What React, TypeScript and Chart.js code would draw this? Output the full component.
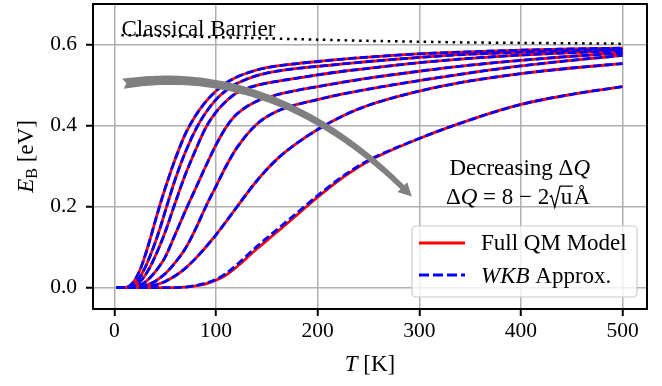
import React, { useEffect, useRef } from "react";
import { Chart, registerables } from "chart.js";

Chart.register(...registerables);

// ---- Data ----
const T = [2, 10, 15, 20, 25, 30, 35, 40, 45, 50, 60, 70, 80, 90, 100, 110, 120, 140, 160, 180, 200, 225, 250, 300, 350, 400, 450, 500];

const qm1 = [0, 0, 0.004, 0.018, 0.042, 0.077, 0.118, 0.162, 0.205, 0.245, 0.318, 0.38, 0.425, 0.459, 0.485, 0.505, 0.519, 0.537, 0.547, 0.553, 0.558, 0.564, 0.569, 0.577, 0.582, 0.586, 0.589, 0.591];
const qm2 = [0, 0, 0.002, 0.01, 0.025, 0.048, 0.077, 0.11, 0.147, 0.188, 0.268, 0.335, 0.39, 0.432, 0.464, 0.487, 0.503, 0.523, 0.534, 0.541, 0.546, 0.552, 0.558, 0.568, 0.576, 0.581, 0.585, 0.588];
const qm3 = [0, 0, 0.001, 0.005, 0.014, 0.029, 0.05, 0.076, 0.105, 0.137, 0.21, 0.28, 0.34, 0.395, 0.433, 0.46, 0.48, 0.499, 0.509, 0.517, 0.525, 0.534, 0.541, 0.555, 0.566, 0.574, 0.58, 0.584];
const qm4 = [0, 0, 0, 0.002, 0.006, 0.013, 0.024, 0.038, 0.055, 0.075, 0.132, 0.19, 0.245, 0.3, 0.352, 0.396, 0.427, 0.46, 0.476, 0.487, 0.496, 0.507, 0.517, 0.534, 0.549, 0.561, 0.571, 0.579];
const qm5 = [0, 0, 0, 0.001, 0.002, 0.005, 0.009, 0.015, 0.024, 0.034, 0.062, 0.097, 0.145, 0.2, 0.25, 0.3, 0.343, 0.403, 0.435, 0.452, 0.464, 0.478, 0.49, 0.511, 0.53, 0.547, 0.561, 0.573];
const qm6 = [0, 0, 0, 0, 0, 0.002, 0.003, 0.006, 0.01, 0.015, 0.029, 0.048, 0.072, 0.1, 0.13, 0.163, 0.197, 0.263, 0.317, 0.357, 0.39, 0.424, 0.45, 0.485, 0.51, 0.528, 0.542, 0.553];
const qm7 = [0, 0, 0, 0, 0, 0, 0, 0, 0, 0, 0, 0.001, 0.004, 0.009, 0.018, 0.031, 0.05, 0.095, 0.137, 0.18, 0.223, 0.272, 0.312, 0.368, 0.414, 0.452, 0.477, 0.496];

const wkb1 = qm1;
const wkb2 = qm2;
const wkb3 = qm3;
const wkb4 = qm4;
const wkb5 = qm5;
const wkb6 = qm6;
const wkb7 = [0, 0, 0, 0, 0, 0, 0, 0, 0, 0, 0, 0.001, 0.005, 0.011, 0.02, 0.035, 0.055, 0.101, 0.143, 0.185, 0.227, 0.275, 0.314, 0.368, 0.414, 0.452, 0.477, 0.496];

const TB = [7, 50, 100, 150, 200, 250, 300, 350, 400, 450, 500];
const barrier = [0.623, 0.621, 0.618, 0.615, 0.612, 0.609, 0.607, 0.605, 0.604, 0.603, 0.602];

const xTicks = [0, 100, 200, 300, 400, 500];
const yTicks = [0.0, 0.2, 0.4, 0.6];

const QM = [qm1, qm2, qm3, qm4, qm5, qm6, qm7];
const WKB = [wkb1, wkb2, wkb3, wkb4, wkb5, wkb6, wkb7];

const SERIF = "'Liberation Serif', 'Times New Roman', serif";

type Run = { text: string; font: string; dy?: number };

function runsWidth(ctx: CanvasRenderingContext2D, runs: Run[]) {
  let w = 0;
  for (const r of runs) {
    ctx.font = r.font;
    w += ctx.measureText(r.text).width;
  }
  return w;
}

function drawRuns(ctx: CanvasRenderingContext2D, runs: Run[], x: number, y: number, align: "left" | "center" | "right") {
  const w = runsWidth(ctx, runs);
  let cx = align === "left" ? x : align === "center" ? x - w / 2 : x - w;
  ctx.textAlign = "left";
  for (const r of runs) {
    ctx.font = r.font;
    ctx.fillText(r.text, cx, y + (r.dy || 0));
    cx += ctx.measureText(r.text).width;
  }
  return cx;
}

function drawFancyArrow(ctx: CanvasRenderingContext2D, p0: any, c: any, p2: any) {
  const bez = (t: number) => ({
    x: (1 - t) * (1 - t) * p0.x + 2 * t * (1 - t) * c.x + t * t * p2.x,
    y: (1 - t) * (1 - t) * p0.y + 2 * t * (1 - t) * c.y + t * t * p2.y,
  });
  const der = (t: number) => ({
    x: 2 * (1 - t) * (c.x - p0.x) + 2 * t * (p2.x - c.x),
    y: 2 * (1 - t) * (c.y - p0.y) + 2 * t * (p2.y - c.y),
  });
  const headLen = 13, headW = 14, wTail = 10, wHead = 5.5;
  let th = 1;
  for (let t = 1; t > 0; t -= 0.001) {
    const b = bez(t);
    if (Math.hypot(b.x - p2.x, b.y - p2.y) >= headLen) { th = t; break; }
  }
  const N = 80;
  const left: any[] = [], right: any[] = [];
  for (let i = 0; i <= N; i++) {
    const t = (th * i) / N;
    const b = bez(t);
    const d = der(t);
    const l = Math.hypot(d.x, d.y);
    const nx = -d.y / l, ny = d.x / l;
    const w = wTail + (wHead - wTail) * (i / N);
    left.push({ x: b.x + (nx * w) / 2, y: b.y + (ny * w) / 2 });
    right.push({ x: b.x - (nx * w) / 2, y: b.y - (ny * w) / 2 });
  }
  const d0 = der(0);
  const l0 = Math.hypot(d0.x, d0.y);
  const notch = { x: p0.x + (d0.x / l0) * 3.5, y: p0.y + (d0.y / l0) * 3.5 };
  const bh = bez(th);
  const dl = Math.hypot(p2.x - bh.x, p2.y - bh.y);
  const dx = (p2.x - bh.x) / dl, dy = (p2.y - bh.y) / dl;
  const hx = -dy, hy = dx;
  ctx.save();
  ctx.fillStyle = "#808080";
  ctx.beginPath();
  ctx.moveTo(notch.x, notch.y);
  for (const p of left) ctx.lineTo(p.x, p.y);
  ctx.lineTo(bh.x + (hx * headW) / 2, bh.y + (hy * headW) / 2);
  ctx.lineTo(p2.x, p2.y);
  ctx.lineTo(bh.x - (hx * headW) / 2, bh.y - (hy * headW) / 2);
  for (let i = right.length - 1; i >= 0; i--) ctx.lineTo(right[i].x, right[i].y);
  ctx.closePath();
  ctx.fill();
  ctx.restore();
}

const overlay = {
  id: "overlay",
  afterDatasetsDraw(chart: any) {
    const { ctx, scales } = chart;
    const x = scales.x, y = scales.y;
    const P = (a: number, b: number) => ({ x: x.getPixelForValue(a), y: y.getPixelForValue(b) });
    drawFancyArrow(ctx, P(8.4, 0.503), P(160.5, 0.562), P(292.6, 0.2247));
  },
  afterDraw(chart: any) {
    const { ctx, chartArea, scales } = chart;
    const x = scales.x, y = scales.y;
    const { left, right, top, bottom } = chartArea;
    ctx.save();
    ctx.fillStyle = "#000";
    ctx.textBaseline = "alphabetic";
    const F = (s: number, it = false) => `${it ? "italic " : ""}${s}px ${SERIF}`;

    // Classical barrier label
    drawRuns(ctx, [{ text: "Classical Barrier", font: F(23) }], x.getPixelForValue(7), y.getPixelForValue(0.622), "left");

    // Decreasing ΔQ texts
    const rx = right - 57;
    drawRuns(ctx, [{ text: "Decreasing \u0394", font: F(23) }, { text: "Q", font: F(23, true) }], rx, top + 171, "right");
    {
      const s = 23;
      const base = top + 200;
      const runs1: Run[] = [{ text: "\u0394", font: F(s) }, { text: "Q", font: F(s, true) }, { text: " = 8 \u2212 2", font: F(s) }];
      ctx.font = F(s);
      const uW = ctx.measureText("u").width;
      const aW = ctx.measureText("\u00C5").width;
      const radW = 0.5 * s;
      const total = runsWidth(ctx, runs1) + radW + uW + 0.05 * s + aW;
      let cx = rx - total;
      cx = drawRuns(ctx, runs1, cx, base, "left");
      ctx.save();
      ctx.strokeStyle = "#000";
      ctx.lineWidth = 1.3;
      ctx.lineJoin = "miter";
      ctx.beginPath();
      ctx.moveTo(cx + 0.02 * s, base - 0.3 * s);
      ctx.lineTo(cx + 0.1 * s, base - 0.36 * s);
      ctx.lineTo(cx + 0.24 * s, base + 0.14 * s);
      ctx.lineTo(cx + 0.47 * s, base - 0.78 * s);
      ctx.lineTo(cx + radW + uW + 0.03 * s, base - 0.78 * s);
      ctx.stroke();
      ctx.restore();
      cx += radW;
      ctx.font = F(s);
      ctx.fillText("u", cx, base);
      cx += uW + 0.05 * s;
      ctx.fillText("\u00C5", cx, base);
    }

    // Legend
    const bx0 = right - 235, by0 = bottom - 83, bw = 225, bh = 71;
    ctx.save();
    ctx.beginPath();
    const r = 4;
    ctx.moveTo(bx0 + r, by0);
    ctx.arcTo(bx0 + bw, by0, bx0 + bw, by0 + bh, r);
    ctx.arcTo(bx0 + bw, by0 + bh, bx0, by0 + bh, r);
    ctx.arcTo(bx0, by0 + bh, bx0, by0, r);
    ctx.arcTo(bx0, by0, bx0 + bw, by0, r);
    ctx.closePath();
    ctx.fillStyle = "rgba(255,255,255,0.8)";
    ctx.fill();
    ctx.strokeStyle = "#cccccc";
    ctx.lineWidth = 1.2;
    ctx.stroke();
    ctx.restore();

    ctx.save();
    ctx.lineWidth = 2.8;
    ctx.strokeStyle = "red";
    ctx.beginPath();
    ctx.moveTo(bx0 + 7, by0 + 17);
    ctx.lineTo(bx0 + 53, by0 + 17);
    ctx.stroke();
    ctx.strokeStyle = "blue";
    ctx.setLineDash([10, 4]);
    ctx.beginPath();
    ctx.moveTo(bx0 + 7, by0 + 49);
    ctx.lineTo(bx0 + 53, by0 + 49);
    ctx.stroke();
    ctx.restore();
    ctx.fillStyle = "#000";
    drawRuns(ctx, [{ text: "Full QM Model", font: F(23) }], bx0 + 69, by0 + 24, "left");
    drawRuns(ctx, [{ text: "WKB", font: F(23, true) }, { text: " Approx.", font: F(23) }], bx0 + 69, by0 + 57, "left");

    // Frame
    ctx.strokeStyle = "#000";
    ctx.lineWidth = 2;
    ctx.strokeRect(left, top, right - left, bottom - top);

    // Axis titles
    drawRuns(ctx, [{ text: "T", font: F(23, true) }, { text: " [K]", font: F(23) }], (left + right) / 2, 371, "center");
    ctx.save();
    ctx.translate(33, (top + bottom) / 2);
    ctx.rotate(-Math.PI / 2);
    drawRuns(ctx, [{ text: "E", font: F(23, true) }, { text: "B", font: F(16), dy: 4 }, { text: " [eV]", font: F(23) }], 0, 0, "center");
    ctx.restore();

    ctx.restore();
  },
};

export default function App() {
  const ref = useRef<HTMLCanvasElement>(null);
  useEffect(() => {
    const canvas = ref.current!;
    const datasets: any[] = [];
    QM.forEach((arr, i) => {
      datasets.push({
        label: "QM " + (i + 1),
        data: T.map((t, j) => ({ x: t, y: arr[j] })),
        borderColor: "red",
        borderWidth: 2.8,
        pointRadius: 0,
        cubicInterpolationMode: "monotone",
        fill: false,
        order: 1,
      });
    });
    WKB.forEach((arr, i) => {
      datasets.push({
        label: "WKB " + (i + 1),
        data: T.map((t, j) => ({ x: t, y: arr[j] })),
        borderColor: "blue",
        borderWidth: 2.8,
        borderDash: [8, 3.5],
        pointRadius: 0,
        cubicInterpolationMode: "monotone",
        fill: false,
        order: 0,
      });
    });
    datasets.push({
      label: "Classical Barrier",
      data: TB.map((t, j) => ({ x: t, y: barrier[j] })),
      borderColor: "black",
      borderWidth: 2.5,
      borderDash: [2.5, 4.7],
      borderCapStyle: "butt",
      pointRadius: 0,
      tension: 0.3,
      fill: false,
      order: 2,
    });

    const chart = new Chart(canvas, {
      type: "line",
      data: { datasets },
      plugins: [overlay],
      options: {
        responsive: false,
        animation: false,
        events: [],
        layout: { padding: { top: 4, right: 15, left: 0, bottom: 0 } },
        plugins: { legend: { display: false }, tooltip: { enabled: false } },
        scales: {
          x: {
            type: "linear",
            min: -21,
            max: 524,
            afterBuildTicks: (axis: any) => {
              axis.ticks = xTicks.map((v) => ({ value: v }));
            },
            afterFit: (scale: any) => {
              scale.height = 77;
              scale.paddingLeft = 0;
              scale.paddingRight = 0;
            },
            ticks: {
              font: { family: SERIF, size: 21.5 },
              color: "#000",
              padding: 2,
              maxRotation: 0,
              callback: (v: any) => String(v),
            },
            grid: { color: "#b0b0b0", lineWidth: 1.5, tickLength: 7, tickColor: "#000", tickWidth: 2, drawTicks: true },
            border: { display: false },
          },
          y: {
            type: "linear",
            min: -0.053,
            max: 0.7,
            afterBuildTicks: (axis: any) => {
              axis.ticks = yTicks.map((v) => ({ value: v }));
            },
            afterFit: (scale: any) => {
              scale.width = 93;
              scale.paddingTop = 0;
              scale.paddingBottom = 0;
            },
            ticks: {
              font: { family: SERIF, size: 21.5 },
              color: "#000",
              padding: 9,
              callback: (v: any) => Number(v).toFixed(1),
            },
            grid: { color: "#b0b0b0", lineWidth: 1.5, tickLength: 7, tickColor: "#000", tickWidth: 2, drawTicks: true },
            border: { display: false },
          },
        },
      } as any,
    });
    return () => chart.destroy();
  }, []);
  return (
    <div style={{ position: "absolute", left: 0, top: 0, width: 662, height: 386, background: "#fff" }}>
      <canvas ref={ref} width={662} height={386} style={{ width: 662, height: 386, display: "block" }} />
    </div>
  );
}
